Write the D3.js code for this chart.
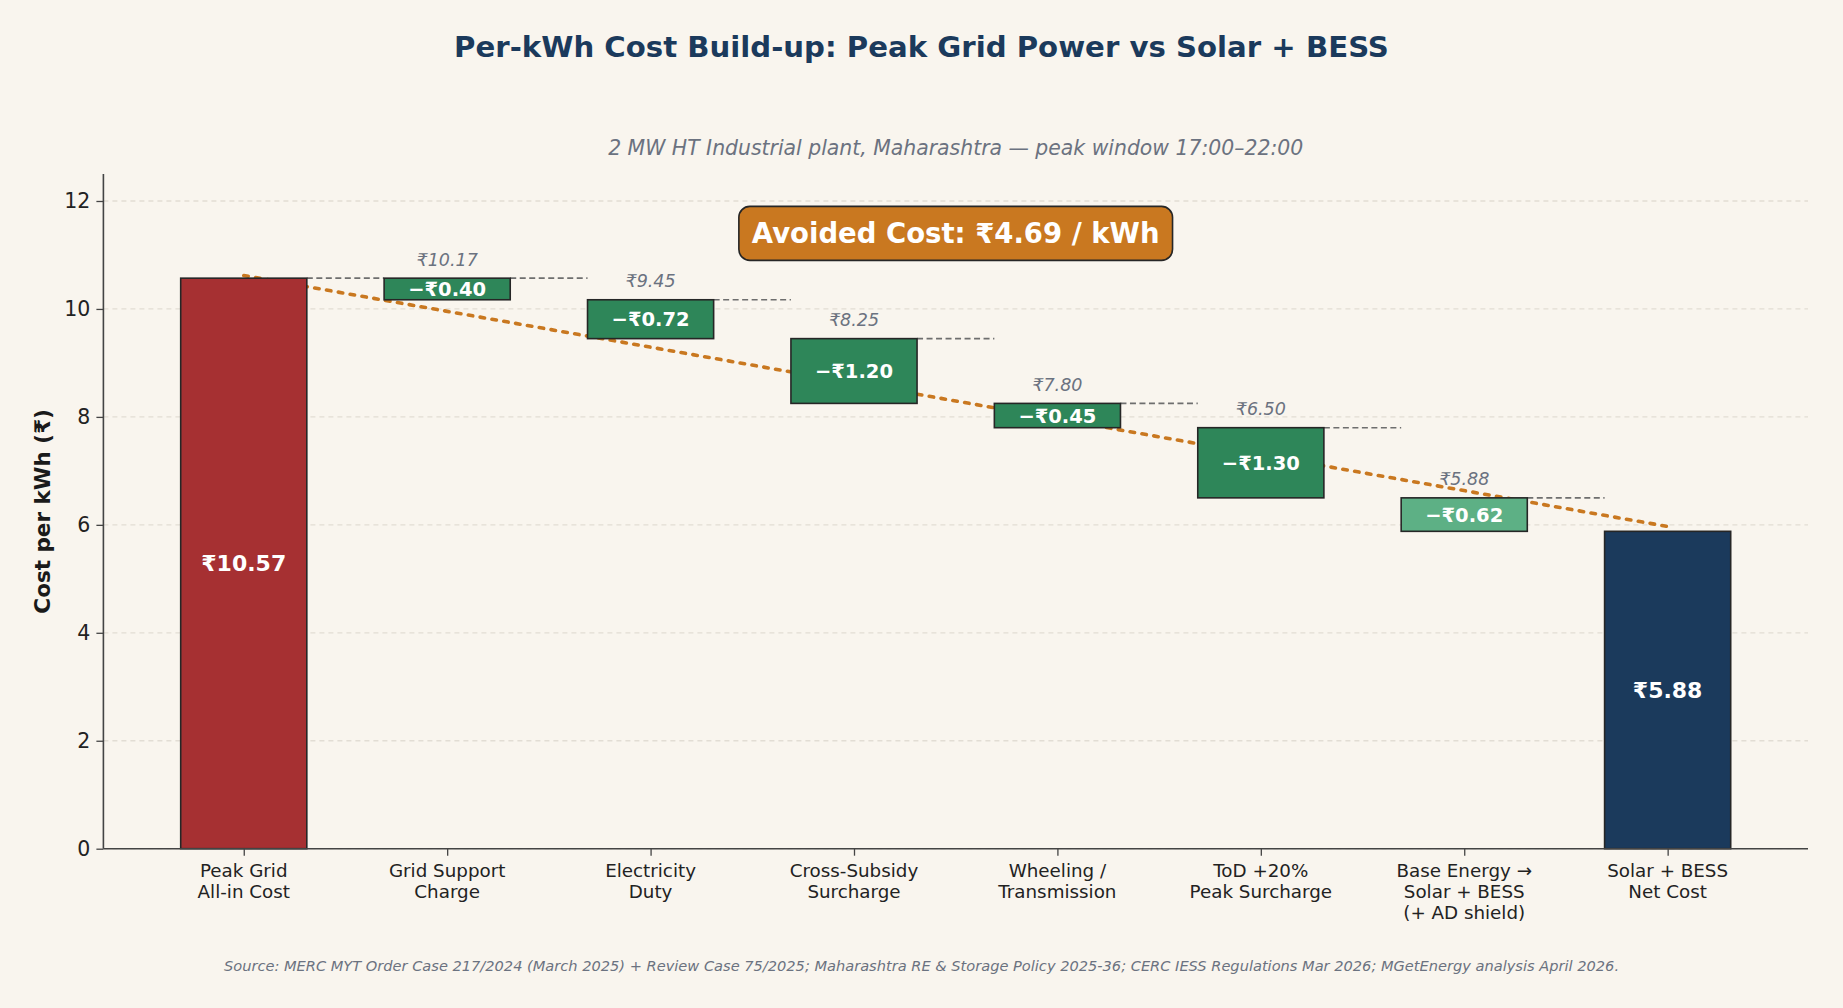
<!DOCTYPE html>
<html>
<head>
<meta charset="utf-8">
<script src="https://cdn.jsdelivr.net/npm/d3@7"></script>
<style>
  body { margin: 0; background: #F9F5EE; }
  svg { display: block; font-family: "DejaVu Sans", sans-serif; }
</style>
</head>
<body>
<div id="chart"></div>
<script>
// Chart data
const categories = [
    "Peak Grid\nAll-in Cost",
    "Grid Support\nCharge",
    "Electricity\nDuty",
    "Cross-Subsidy\nSurcharge",
    "Wheeling /\nTransmission",
    "ToD +20%\nPeak Surcharge",
    "Base Energy \u2192\nSolar + BESS\n(+ AD shield)",
    "Solar + BESS\nNet Cost"
];
const startCost = 10.57;
const deltas = [-0.40, -0.72, -1.20, -0.45, -1.30, -0.62];
const netCost = 5.88;
const yTicks = [0, 2, 4, 6, 8, 10, 12];
const trendEnds = [10.62, 5.97];   // dotted guide line, first bar -> last bar

const W = 1843, H = 1008;
const margin = { top: 174, right: 35, bottom: 159.3, left: 103.4 };
const width = W - margin.left - margin.right;
const height = H - margin.top - margin.bottom;
const barW = 0.62;

// Build waterfall rows
const rows = [];
let running = startCost;
rows.push({ i: 0, lo: 0, hi: startCost, kind: "start", label: "\u20B9" + startCost.toFixed(2) });
deltas.forEach((d, k) => {
    const next = +(running + d).toFixed(2);
    rows.push({ i: k + 1, lo: next, hi: running, kind: k === deltas.length - 1 ? "light" : "delta",
        label: "\u2212\u20B9" + Math.abs(d).toFixed(2), after: next });
    running = next;
});
rows.push({ i: rows.length, lo: 0, hi: netCost, kind: "end", label: "\u20B9" + netCost.toFixed(2) });

const colors = { start: "#A63032", delta: "#2E8659", light: "#5DB085", end: "#1B3A5C" };

const svg = d3.select("#chart").append("svg")
    .attr("width", W)
    .attr("height", H);

svg.append("rect").attr("width", W).attr("height", H).attr("fill", "#F9F5EE");

const g = svg.append("g").attr("transform", `translate(${margin.left},${margin.top})`);

// Scales
const x = d3.scaleLinear()
    .domain([-0.69, categories.length - 1 + 0.69])
    .range([0, width]);
const y = d3.scaleLinear()
    .domain([0, 12.5])
    .range([height, 0]);

// Horizontal grid
g.append("g")
    .selectAll("line")
    .data(yTicks)
    .join("line")
    .attr("x1", 0).attr("x2", width)
    .attr("y1", d => y(d)).attr("y2", d => y(d))
    .attr("stroke", "#E2DDD4")
    .attr("stroke-width", 1.3)
    .attr("stroke-dasharray", "5,4");

// Dotted trend guide (behind bars)
g.append("line")
    .attr("x1", x(0)).attr("y1", y(trendEnds[0]))
    .attr("x2", x(rows.length - 1)).attr("y2", y(trendEnds[1]))
    .attr("stroke", "#C97820")
    .attr("stroke-width", 3.6)
    .attr("stroke-linecap", "round")
    .attr("stroke-dasharray", "4.5,7.5");

// Connector dashes between bars, at each bar's top
g.append("g")
    .selectAll("line")
    .data(rows.slice(0, -1))
    .join("line")
    .attr("x1", d => x(d.i + barW / 2))
    .attr("x2", d => x(d.i + 1 - barW / 2))
    .attr("y1", d => y(d.hi)).attr("y2", d => y(d.hi))
    .attr("stroke", "#6E6E6E")
    .attr("stroke-width", 1.6)
    .attr("stroke-dasharray", "6,3.5");

// Bars
g.append("g")
    .selectAll("rect")
    .data(rows)
    .join("rect")
    .attr("x", d => x(d.i - barW / 2))
    .attr("width", x(barW) - x(0))
    .attr("y", d => y(d.hi))
    .attr("height", d => y(d.lo) - y(d.hi))
    .attr("fill", d => colors[d.kind])
    .attr("stroke", "#262626")
    .attr("stroke-width", 1.6);

// Labels inside bars
g.append("g")
    .selectAll("text")
    .data(rows)
    .join("text")
    .attr("x", d => x(d.i))
    .attr("y", d => y((d.lo + d.hi) / 2))
    .attr("dy", "0.36em")
    .attr("text-anchor", "middle")
    .attr("fill", "white")
    .attr("font-weight", "bold")
    .attr("font-size", d => d.kind === "start" || d.kind === "end" ? 22 : 19.5)
    .text(d => d.label);

// Running totals above delta bars
g.append("g")
    .selectAll("text")
    .data(rows.filter(d => d.after !== undefined))
    .join("text")
    .attr("x", d => x(d.i))
    .attr("y", d => y(d.hi) - 12.5)
    .attr("text-anchor", "middle")
    .attr("fill", "#6B7280")
    .attr("font-style", "italic")
    .attr("font-size", 17.5)
    .text(d => "\u20B9" + d.after.toFixed(2));

// Axes
const yAxis = g.append("g")
    .call(d3.axisLeft(y).tickValues(yTicks).tickSize(7).tickPadding(6).tickFormat(d3.format("d")));
const xAxis = g.append("g")
    .attr("transform", `translate(0,${height})`)
    .call(d3.axisBottom(x).tickValues(d3.range(categories.length)).tickSize(7).tickFormat(""));

[yAxis, xAxis].forEach(a => {
    a.attr("font-family", "DejaVu Sans");
    a.select(".domain").attr("stroke", "#444").attr("stroke-width", 1.6);
    a.selectAll(".tick line").attr("stroke", "#444").attr("stroke-width", 1.3);
});
xAxis.select(".domain").attr("d", `M0,0H${width}`);
yAxis.select(".domain").attr("d", `M0,${height}V0`);
yAxis.selectAll(".tick text")
    .attr("font-size", 20.5)
    .attr("fill", "#222");

// Multi-line category labels
const catLabels = xAxis.append("g");
categories.forEach((c, i) => {
    const t = catLabels.append("text")
        .attr("x", x(i))
        .attr("y", 28.6)
        .attr("text-anchor", "middle")
        .attr("fill", "#222")
        .attr("font-size", 18.3);
    c.split("\n").forEach((line, k) => {
        t.append("tspan").attr("x", x(i)).attr("dy", k === 0 ? 0 : 21).text(line);
    });
});

// Y axis title
svg.append("text")
    .attr("transform", `translate(50,${margin.top + height / 2}) rotate(-90)`)
    .attr("text-anchor", "middle")
    .attr("font-weight", "bold")
    .attr("font-size", 21.5)
    .attr("fill", "#1a1a1a")
    .text("Cost per kWh (\u20B9)");

// Avoided cost badge
const badge = g.append("g");
const badgeText = badge.append("text")
    .attr("x", x(3.5))
    .attr("y", y(11.4))
    .attr("dy", "0.36em")
    .attr("text-anchor", "middle")
    .attr("font-weight", "bold")
    .attr("font-size", 27.5)
    .attr("fill", "white")
    .text(`Avoided Cost: \u20B9${(startCost - netCost).toFixed(2)} / kWh`);
const bb = badgeText.node().getBBox();
badge.insert("rect", "text")
    .attr("x", bb.x - 13)
    .attr("y", y(11.4) - 27)
    .attr("width", bb.width + 26)
    .attr("height", 54)
    .attr("rx", 11)
    .attr("fill", "#C97820")
    .attr("stroke", "#262626")
    .attr("stroke-width", 1.6);

// Titles
svg.append("text")
    .attr("x", W / 2).attr("y", 57.3)
    .attr("text-anchor", "middle")
    .attr("font-weight", "bold")
    .attr("font-size", 29.2)
    .attr("fill", "#1B3A5C")
    .text("Per-kWh Cost Build-up: Peak Grid Power vs Solar + BESS");

svg.append("text")
    .attr("x", margin.left + width / 2).attr("y", 155.3)
    .attr("text-anchor", "middle")
    .attr("font-style", "italic")
    .attr("font-size", 20.4)
    .attr("fill", "#6B7280")
    .text("2 MW HT Industrial plant, Maharashtra \u2014 peak window 17:00\u201322:00");

svg.append("text")
    .attr("x", W / 2).attr("y", 971)
    .attr("text-anchor", "middle")
    .attr("font-style", "italic")
    .attr("font-size", 14.6)
    .attr("fill", "#6B7280")
    .text("Source: MERC MYT Order Case 217/2024 (March 2025) + Review Case 75/2025; Maharashtra RE & Storage Policy 2025-36; CERC IESS Regulations Mar 2026; MGetEnergy analysis April 2026.");
</script>
</body>
</html>
